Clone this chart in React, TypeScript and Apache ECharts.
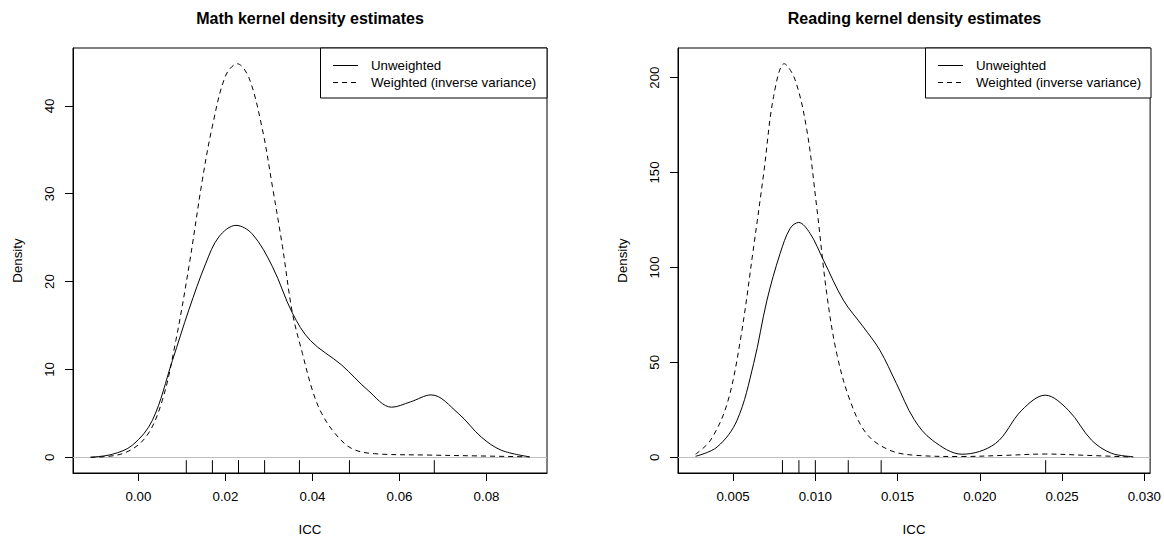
import React, { useEffect, useRef } from "react";
import * as echarts from "echarts";

// ---------- data ----------
const mathUnweighted: number[][] = [
  [-0.011, 0.0], [-0.006, 0.34], [-0.0014, 1.37], [0.0032, 4.2], [0.0078, 11.0],
  [0.0116, 16.8], [0.0155, 22.1], [0.0185, 25.1], [0.0224, 26.4], [0.0262, 25.4],
  [0.0308, 21.7], [0.0354, 16.4], [0.0395, 13.3], [0.0467, 10.5], [0.0528, 7.6],
  [0.0582, 5.7], [0.0625, 6.3], [0.0673, 7.1], [0.0735, 5.0], [0.0788, 2.3],
  [0.0834, 0.8], [0.0899, 0.05],
];
const mathWeighted: number[][] = [
  [-0.011, 0.0], [-0.0037, 0.4], [0.0017, 2.3], [0.0055, 6.5], [0.0086, 13.3],
  [0.0116, 21.7], [0.0147, 31.6], [0.017, 37.7], [0.02, 43.4], [0.0227, 44.8],
  [0.0254, 43.2], [0.0285, 37.3], [0.0308, 30.8], [0.0331, 24.0], [0.0354, 16.4],
  [0.0377, 11.8], [0.04, 7.6], [0.0421, 5.0], [0.0452, 2.7], [0.049, 1.0],
  [0.0543, 0.4], [0.0668, 0.25], [0.0783, 0.15], [0.0899, 0.05],
];
const mathRug: number[] = [0.011, 0.017, 0.023, 0.029, 0.037, 0.0485, 0.068];
const mathXTicks: number[] = [0, 0.02, 0.04, 0.06, 0.08];
const mathYTicks: number[] = [0, 10, 20, 30, 40];

const readUnweighted: number[][] = [
  [0.00272, 0.5], [0.00403, 5.4], [0.00524, 19.5], [0.00625, 49.4], [0.00706, 82.8],
  [0.00786, 107.4], [0.00847, 120.6], [0.00898, 123.7], [0.00968, 117.9], [0.01049, 103.9],
  [0.0117, 82.8], [0.01291, 68.7], [0.01392, 56.4], [0.01493, 38.8], [0.016, 20.0],
  [0.01711, 9.0], [0.01892, 1.6], [0.02094, 7.2], [0.02255, 24.8], [0.02397, 32.7],
  [0.02538, 24.8], [0.02679, 9.0], [0.028, 2.1], [0.02932, 0.3],
];
const readWeighted: number[][] = [
  [0.00272, 1.6], [0.00363, 9.0], [0.00464, 28.3], [0.00544, 61.7], [0.00625, 110.9],
  [0.00686, 149.6], [0.00746, 190.0], [0.00811, 207.3], [0.00877, 198.8], [0.00948, 172.5],
  [0.01008, 132.0], [0.01069, 86.3], [0.0113, 54.6], [0.0121, 30.1], [0.01311, 12.4],
  [0.01452, 3.7], [0.01614, 1.0], [0.01892, 0.4], [0.0215, 1.0], [0.024, 1.7],
  [0.0265, 1.0], [0.02932, 0.1],
];
const readRug: number[] = [0.008, 0.009, 0.01, 0.012, 0.014, 0.024];
const readXTicks: number[] = [0.005, 0.01, 0.015, 0.02, 0.025, 0.03];
const readYTicks: number[] = [0, 50, 100, 150, 200];

const titles = ["Math kernel density estimates", "Reading kernel density estimates"];
const legendLabels = ["Unweighted", "Weighted (inverse variance)"];

const FONT = '"Liberation Sans", Arial, Helvetica, sans-serif';
const FS = 13.3;

function yRange(a: number[][], b: number[][]) {
  const m = Math.max(...a.map((p) => p[1]), ...b.map((p) => p[1]));
  return [-0.04 * m, 1.04 * m];
}

export default function App() {
  const ref = useRef<HTMLDivElement>(null);
  useEffect(() => {
    if (!ref.current) return;
    const chart = echarts.init(ref.current, undefined, { renderer: "svg" });
    const [mY0, mY1] = yRange(mathUnweighted, mathWeighted);
    const [rY0, rY1] = yRange(readUnweighted, readWeighted);

    const grids = [
      { left: 73, top: 48, width: 474, height: 425 },
      { left: 678, top: 48, width: 473, height: 425 },
    ];

    const axisLine = { show: true, onZero: false, lineStyle: { color: "#000", width: 1 } };
    const tick = (ticks: number[]) => ({
      show: true,
      inside: false,
      length: 8,
      customValues: ticks,
      lineStyle: { color: "#000", width: 1 },
    });

    const xAxis = (i: number, min: number, max: number, ticks: number[], dec: number) => ({
      gridIndex: i,
      type: "value",
      min,
      max,
      position: "bottom",
      axisLine,
      axisTick: tick(ticks),
      axisLabel: {
        customValues: ticks,
        formatter: (v: number) => v.toFixed(dec),
        margin: 17,
        color: "#000",
        fontSize: FS,
        fontFamily: FONT,
      },
      splitLine: { show: false },
      name: "ICC",
      nameLocation: "middle",
      nameGap: 50,
      nameTextStyle: { color: "#000", fontSize: FS, fontFamily: FONT },
    });
    const yAxis = (i: number, min: number, max: number, ticks: number[]) => ({
      gridIndex: i,
      type: "value",
      min,
      max,
      position: "left",
      axisLine,
      axisTick: tick(ticks),
      axisLabel: {
        customValues: ticks,
        formatter: (v: number) => String(v),
        rotate: 90,
        margin: 17,
        color: "#000",
        fontSize: FS,
        fontFamily: FONT,
      },
      splitLine: { show: false },
      name: "Density",
      nameLocation: "middle",
      nameGap: 49,
      nameTextStyle: { color: "#000", fontSize: FS, fontFamily: FONT },
    });

    const curve = (i: number, name: string, data: number[][], dashed: boolean, zero: boolean) => ({
      type: "line",
      name,
      xAxisIndex: i,
      yAxisIndex: i,
      data,
      smooth: 0.35,
      showSymbol: false,
      silent: true,
      lineStyle: { color: "#000", width: 1, type: dashed ? [5, 4] : "solid" },
      z: 3,
      markLine: zero
        ? {
            silent: true,
            symbol: ["none", "none"],
            label: { show: false },
            lineStyle: { color: "#bebebe", type: "solid", width: 1 },
            data: [{ yAxis: 0 }],
            z: 2,
          }
        : undefined,
    });

    const rug = (i: number, vals: number[]) => ({
      type: "custom",
      xAxisIndex: i,
      yAxisIndex: i,
      silent: true,
      data: vals.map((v) => [v, 0]),
      renderItem: (params: any, api: any) => {
        const cs = params.coordSys;
        const x = api.coord([api.value(0), 0])[0];
        const yb = cs.y + cs.height;
        return {
          type: "line",
          shape: { x1: x, y1: yb, x2: x, y2: yb - 12.8 },
          style: { stroke: "#000", lineWidth: 1 },
        };
      },
    });

    const legend = (bx: number, bw: number, lx: number, tx: number) => [
      {
        type: "rect",
        shape: { x: bx, y: 48, width: bw, height: 50 },
        style: { fill: "#fff", stroke: "#000", lineWidth: 1 },
        z: 10,
      },
      {
        type: "line",
        shape: { x1: lx, y1: 65.5, x2: lx + 25, y2: 65.5 },
        style: { stroke: "#000", lineWidth: 1 },
        z: 11,
      },
      {
        type: "line",
        shape: { x1: lx, y1: 82.5, x2: lx + 25, y2: 82.5 },
        style: { stroke: "#000", lineWidth: 1, lineDash: [5, 4] },
        z: 11,
      },
      {
        type: "text",
        x: tx,
        y: 65.5,
        style: { text: legendLabels[0], font: `${FS}px ${FONT}`, fill: "#000", align: "left", verticalAlign: "middle", textAlign: "left", textVerticalAlign: "middle" },
        z: 11,
      },
      {
        type: "text",
        x: tx,
        y: 82.5,
        style: { text: legendLabels[1], font: `${FS}px ${FONT}`, fill: "#000", align: "left", verticalAlign: "middle", textAlign: "left", textVerticalAlign: "middle" },
        z: 11,
      },
    ];

    const titleText = (cx: number, t: string) => ({
      type: "text",
      x: cx,
      y: 18,
      style: { text: t, font: `bold 16px ${FONT}`, fill: "#000", align: "center", verticalAlign: "middle", textAlign: "center", textVerticalAlign: "middle" },
    });

    chart.setOption({
      animation: false,
      backgroundColor: "#fff",
      textStyle: { fontFamily: FONT },
      grid: grids.map((g) => ({ ...g, show: true, borderColor: "#000", borderWidth: 1, backgroundColor: "transparent", containLabel: false })),
      xAxis: [
        xAxis(0, -0.01504, 0.0939, mathXTicks, 2),
        xAxis(1, 0.00165, 0.03035, readXTicks, 3),
      ],
      yAxis: [yAxis(0, mY0, mY1, mathYTicks), yAxis(1, rY0, rY1, readYTicks)],
      series: [
        curve(0, legendLabels[0], mathUnweighted, false, true),
        curve(0, legendLabels[1], mathWeighted, true, false),
        rug(0, mathRug),
        curve(1, legendLabels[0], readUnweighted, false, true),
        curve(1, legendLabels[1], readWeighted, true, false),
        rug(1, readRug),
      ],
      graphic: [
        titleText(310, titles[0]),
        titleText(914.5, titles[1]),
        ...legend(320.5, 226.5, 333, 371),
        ...legend(925.5, 225.5, 938, 976),
      ],
    });
    return () => chart.dispose();
  }, []);
  return (
    <div
      ref={ref}
      style={{ position: "absolute", left: 0, top: 0, width: 1164, height: 544, background: "#fff" }}
    />
  );
}
